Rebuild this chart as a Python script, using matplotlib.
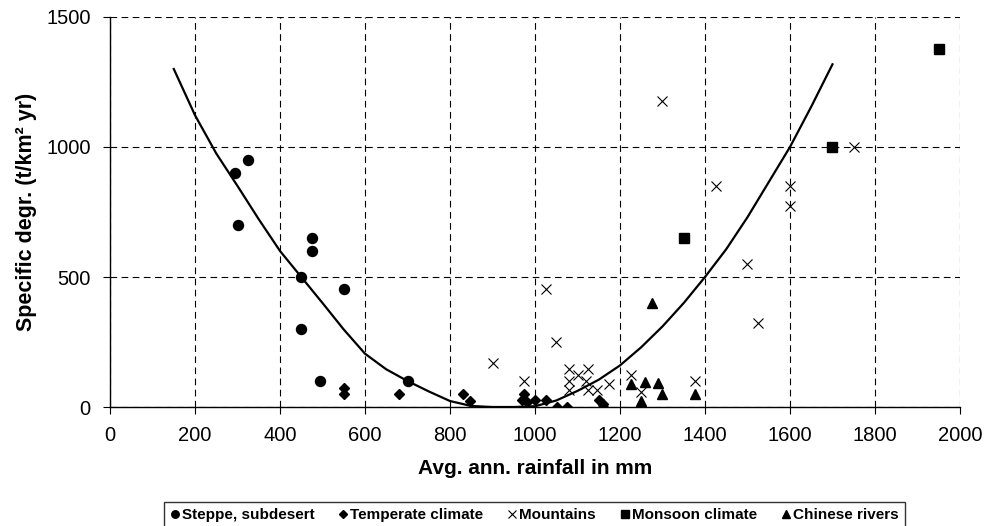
import matplotlib
matplotlib.use("Agg")
import matplotlib.pyplot as plt

plt.rcParams["font.family"] = ["Liberation Sans", "DejaVu Sans"]

# Steppe, subdesert
steppe_x = [295, 325, 300, 475, 475, 450, 550, 450, 495, 700]
steppe_y = [900, 950, 700, 650, 600, 500, 455, 300, 100, 100]

# Temperate climate
temperate_x = [550, 550, 680, 830, 848, 973, 970, 980, 1001, 1026, 1051, 1075, 1151, 1159, 1160]
temperate_y = [75, 50, 50, 50, 25, 51, 26, 20, 26, 26, 0, 0, 26, 13, 0]

# Mountains
mountains_x = [900, 975, 1025, 1050, 1081, 1081, 1081, 1100, 1120, 1125, 1125, 1147, 1175,
               1225, 1250, 1300, 1376, 1425, 1500, 1525, 1600, 1600, 1750]
mountains_y = [170, 100, 455, 250, 148, 100, 67, 122, 100, 148, 65, 67, 90,
               124, 58, 1175, 100, 850, 550, 325, 850, 775, 1000]

# Monsoon climate
monsoon_x = [1350, 1700, 1950]
monsoon_y = [650, 1000, 1375]

# Chinese rivers
chinese_x = [1275, 1225, 1260, 1290, 1300, 1250, 1376]
chinese_y = [400, 90, 97, 94, 51, 23, 51]

# trend curve
trend_x = [150, 200, 250, 300, 350, 400, 450, 500, 550, 600, 650, 700, 750, 800, 850,
           900, 950, 1000, 1050, 1100, 1150, 1200, 1250, 1300, 1350, 1400, 1450, 1500,
           1550, 1600, 1650, 1700]
trend_y = [1300, 1122, 975, 850, 722, 600, 500, 400, 298, 205, 145, 100, 60, 23, 4,
           0, 0, 3, 25, 62, 105, 160, 230, 310, 400, 500, 607, 730, 865, 1000, 1155, 1318]

fig = plt.figure(figsize=(9.86, 5.26), dpi=100)
ax = fig.add_axes([0.1116, 0.2262, 0.862, 0.7415])

ax.plot(trend_x, trend_y, color="black", lw=1.6, zorder=3)

ax.plot(steppe_x, steppe_y, "o", color="black", ms=7.2, ls="none", label="Steppe, subdesert", zorder=4)
ax.plot(temperate_x, temperate_y, "D", color="black", ms=5.5, ls="none", label="Temperate climate", zorder=4)
ax.plot(mountains_x, mountains_y, "x", color="black", ms=7, mew=0.8, ls="none", label="Mountains", zorder=4)
ax.plot(monsoon_x, monsoon_y, "s", color="black", ms=6.8, ls="none", label="Monsoon climate", zorder=4)
ax.plot(chinese_x, chinese_y, "^", color="black", ms=7.5, ls="none", label="Chinese rivers", zorder=4)

ax.set_xlim(0, 2000)
ax.set_ylim(0, 1500)
ax.set_xticks(range(0, 2001, 200))
ax.set_yticks([0, 500, 1000, 1500])
ax.grid(True, color="black", ls=(0, (6, 4)), lw=0.8)
ax.set_axisbelow(True)
for s in ["top", "right"]:
    ax.spines[s].set_visible(False)
ax.spines["left"].set_linewidth(1.0)
ax.spines["bottom"].set_linewidth(1.0)
ax.tick_params(direction="out", length=5, width=0.8, labelsize=14.5, pad=9)

ax.set_xlabel("Avg. ann. rainfall in mm", fontsize=15, fontweight="bold", labelpad=9.5)
ax.set_ylabel("Specific degr. (t/km² yr)", fontsize=15.5, fontweight="bold", labelpad=6.5)

leg = fig.legend(loc="upper center", bbox_to_anchor=(0.542, 0.0456), ncol=5,
                 prop={"size": 11, "weight": "bold"}, frameon=True, fancybox=False,
                 handlelength=0.6, handletextpad=0.15, columnspacing=1.6,
                 borderpad=0.4, borderaxespad=0, markerscale=0.75)
leg.get_frame().set_edgecolor("black")
leg.get_frame().set_linewidth(1.0)

fig.savefig("out.png", dpi=100)
